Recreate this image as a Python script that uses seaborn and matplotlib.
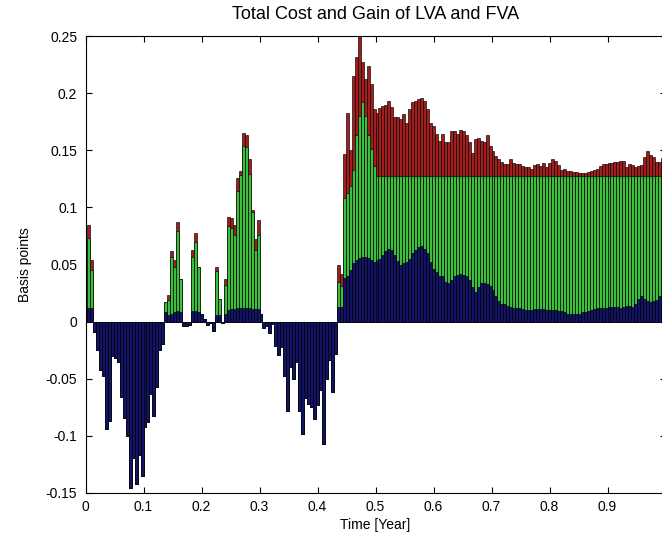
import numpy as np
import matplotlib
matplotlib.use("Agg")
import matplotlib.pyplot as plt
import seaborn as sns

# LVA part (blue), one value per time step
lva = [0.012, 0.012,
       -0.009, -0.025, -0.042, -0.048, -0.094, -0.087, -0.030, -0.032, -0.035, -0.066, -0.084, -0.100,
       -0.146, -0.119, -0.142, -0.117, -0.135, -0.092, -0.088, -0.063, -0.083, -0.057, -0.025, -0.020,
       0.008, 0.006, 0.007, 0.008, 0.009, 0.008, -0.004, -0.004, -0.003, 0.009, 0.009, 0.008, 0.007, 0.002,
       -0.003, -0.001, -0.008, 0.006, 0.006, -0.001, 0.007, 0.010, 0.011, 0.011, 0.012, 0.012, 0.012, 0.012,
       0.012, 0.011, 0.011, 0.011, 0.007,
       -0.006, -0.004, -0.010, -0.002, -0.021, -0.029, -0.022, -0.048, -0.078, -0.040, -0.050, -0.035, -0.078,
       -0.098, -0.067, -0.072, -0.075, -0.085, -0.073, -0.060, -0.107, -0.050, -0.034, -0.062, -0.028,
       0.013, 0.013, 0.038, 0.040, 0.045, 0.051, 0.054, 0.056, 0.057, 0.057, 0.056, 0.054, 0.052,
       0.054, 0.055, 0.058, 0.062, 0.064, 0.063, 0.058, 0.053, 0.050, 0.051, 0.052, 0.055, 0.060, 0.063,
       0.065, 0.066, 0.064, 0.060, 0.052,
       0.046, 0.043, 0.040, 0.040, 0.035, 0.034, 0.036, 0.040, 0.041, 0.042, 0.041, 0.040, 0.036, 0.030,
       0.026, 0.030, 0.034, 0.034, 0.033, 0.031, 0.028, 0.022, 0.018, 0.015, 0.015, 0.014, 0.013, 0.012,
       0.012, 0.012, 0.011, 0.010, 0.010, 0.010, 0.011, 0.011, 0.011, 0.011, 0.010, 0.010, 0.010, 0.010,
       0.009, 0.009, 0.008, 0.007, 0.007, 0.007, 0.007, 0.007, 0.008, 0.008, 0.009, 0.010, 0.011, 0.012,
       0.012, 0.012, 0.012, 0.013, 0.013, 0.013, 0.013, 0.012, 0.013, 0.014, 0.014, 0.013, 0.015, 0.020,
       0.022, 0.020, 0.018, 0.017, 0.018, 0.019, 0.022, 0.023, 0.024]

# top of LVA + FVA cost (green)
lva_fva = [0.073, 0.045,
           -0.009, -0.025, -0.042, -0.048, -0.094, -0.087, -0.030, -0.032, -0.035, -0.066, -0.084, -0.100,
           -0.146, -0.119, -0.142, -0.117, -0.135, -0.092, -0.088, -0.063, -0.083, -0.057, -0.025, -0.020,
           0.017, 0.019, 0.057, 0.048, 0.079, 0.037, -0.004, -0.004, -0.003, 0.057, 0.070, 0.048, 0.007, 0.002,
           -0.003, -0.001, -0.008, 0.044, 0.020, -0.001, 0.032, 0.084, 0.082, 0.076, 0.114, 0.128, 0.154, 0.153,
           0.129, 0.096, 0.063, 0.076, 0.007,
           -0.006, -0.004, -0.010, -0.002, -0.021, -0.029, -0.022, -0.048, -0.078, -0.040, -0.050, -0.035, -0.078,
           -0.098, -0.067, -0.072, -0.075, -0.085, -0.073, -0.060, -0.107, -0.050, -0.034, -0.062, -0.028,
           0.035, 0.031, 0.108, 0.113, 0.119, 0.133, 0.163, 0.180, 0.192, 0.180, 0.163, 0.151, 0.136,
           0.1275, 0.1275, 0.1275, 0.1275, 0.1275, 0.1275, 0.1275, 0.1275, 0.1275, 0.1275, 0.1275, 0.1275, 0.1275, 0.1275,
           0.1275, 0.1275, 0.1275, 0.1275, 0.1275, 0.1275, 0.1275, 0.1275, 0.1275, 0.1275, 0.1275, 0.1275, 0.1275, 0.1275,
           0.1275, 0.1275, 0.1275, 0.1275, 0.1275, 0.1275, 0.1275, 0.1275, 0.1275, 0.1275, 0.1275, 0.1275, 0.1275, 0.1275,
           0.1275, 0.1275, 0.1275, 0.1275, 0.1275, 0.1275, 0.1275, 0.1275, 0.1275, 0.1275, 0.1275, 0.1275, 0.1275, 0.1275,
           0.1275, 0.1275, 0.1275, 0.1275, 0.1275, 0.1275, 0.1275, 0.1275, 0.1275, 0.1275, 0.1275, 0.1275, 0.1275, 0.1275,
           0.1275, 0.1275, 0.1275, 0.1275, 0.1275, 0.1275, 0.1275, 0.1275, 0.1275, 0.1275, 0.1275, 0.1275, 0.1275, 0.1275,
           0.1275, 0.1275, 0.1275, 0.1275, 0.1275, 0.1275, 0.1275, 0.1275, 0.1275, 0.1275, 0.1275, 0.1275, 0.1275, 0.1275]

# total incl. gain (red)
total = [0.085, 0.054,
         -0.009, -0.025, -0.042, -0.048, -0.094, -0.087, -0.030, -0.032, -0.035, -0.066, -0.084, -0.100,
         -0.146, -0.119, -0.142, -0.117, -0.135, -0.092, -0.088, -0.063, -0.083, -0.057, -0.025, -0.020,
         0.017, 0.023, 0.062, 0.054, 0.087, 0.037, -0.004, -0.004, -0.003, 0.063, 0.078, 0.048, 0.007, 0.002,
         -0.003, -0.001, -0.008, 0.048, 0.020, -0.001, 0.037, 0.092, 0.091, 0.085, 0.126, 0.132, 0.165, 0.163,
         0.142, 0.098, 0.072, 0.089, 0.007,
         -0.006, -0.004, -0.010, -0.002, -0.021, -0.029, -0.022, -0.048, -0.078, -0.040, -0.050, -0.035, -0.078,
         -0.098, -0.067, -0.072, -0.075, -0.085, -0.073, -0.060, -0.107, -0.050, -0.034, -0.062, -0.028,
         0.050, 0.042, 0.147, 0.183, 0.150, 0.215, 0.232, 0.252, 0.227, 0.212, 0.224, 0.208, 0.186,
         0.183, 0.187, 0.189, 0.190, 0.193, 0.188, 0.179, 0.179, 0.177, 0.182, 0.174, 0.186, 0.192, 0.193,
         0.195, 0.196, 0.193, 0.186, 0.174,
         0.171, 0.164, 0.158, 0.164, 0.157, 0.157, 0.167, 0.167, 0.164, 0.168, 0.167, 0.163, 0.157, 0.148,
         0.160, 0.161, 0.158, 0.157, 0.163, 0.154, 0.149, 0.145, 0.142, 0.140, 0.138, 0.138, 0.142, 0.139,
         0.138, 0.138, 0.136, 0.135, 0.135, 0.134, 0.137, 0.138, 0.136, 0.139,
         0.135, 0.139, 0.142, 0.141, 0.137, 0.133, 0.134, 0.132, 0.132, 0.131, 0.131, 0.130, 0.130, 0.130,
         0.131, 0.132, 0.133, 0.134, 0.136, 0.138, 0.138, 0.139, 0.139, 0.140, 0.140, 0.141, 0.141, 0.135,
         0.138, 0.137, 0.135, 0.136, 0.137, 0.144, 0.149, 0.146, 0.144, 0.140, 0.140, 0.143, 0.152]

# time grid in years
time = np.arange(1, len(total) + 1) / len(total)

# the tick at 1 sits on the clipped right edge, so it gets no label
xticks = [0, 0.1, 0.2, 0.3, 0.4, 0.5, 0.6, 0.7, 0.8, 0.9, 1.0]
xtick_labels = ["0", "0.1", "0.2", "0.3", "0.4", "0.5", "0.6", "0.7", "0.8", "0.9", ""]
yticks = [-0.15, -0.1, -0.05, 0, 0.05, 0.1, 0.15, 0.2, 0.25]
ytick_labels = ["-0.15", "-0.1", "-0.05", "0", "0.05", "0.1", "0.15", "0.2", "0.25"]

sns.set_style("ticks", {"xtick.direction": "in", "ytick.direction": "in",
                        "axes.edgecolor": "black", "xtick.color": "black", "ytick.color": "black",
                        "text.color": "black", "axes.labelcolor": "black"})
plt.rcParams["font.family"] = ["Liberation Sans", "DejaVu Sans"]

fig = plt.figure(figsize=(6.62, 5.46), dpi=100)
ax = fig.add_axes([85.5 / 662, 53 / 546, 580 / 662, 457 / 546])

# layered bars: total first, then the lower stacks drawn over it
for vals, col in [(total, "#a51c1c"), (lva_fva, "#3cbf3c"), (lva, "#121266")]:
    sns.barplot(x=time, y=vals, native_scale=True, color=col, saturation=1, width=1,
                edgecolor="black", linewidth=0.45, errorbar=None, ax=ax)

ax.set_xlim(0, 1)
ax.set_ylim(-0.15, 0.25)
ax.set_xticks(xticks, xtick_labels)
ax.set_yticks(yticks, ytick_labels)
ax.tick_params(top=True, right=True, length=4, width=0.8, labelsize=10)
ax.tick_params(axis="y", pad=6)
ax.tick_params(axis="x", pad=5)
for s in ax.spines.values():
    s.set_linewidth(0.8)

ax.set_xlabel("Time [Year]", fontsize=10, labelpad=3)
ax.set_ylabel("Basis points", fontsize=10, labelpad=10)
ax.set_title("Total Cost and Gain of LVA and FVA", fontsize=13, pad=12)

fig.savefig("out.png", dpi=100)
